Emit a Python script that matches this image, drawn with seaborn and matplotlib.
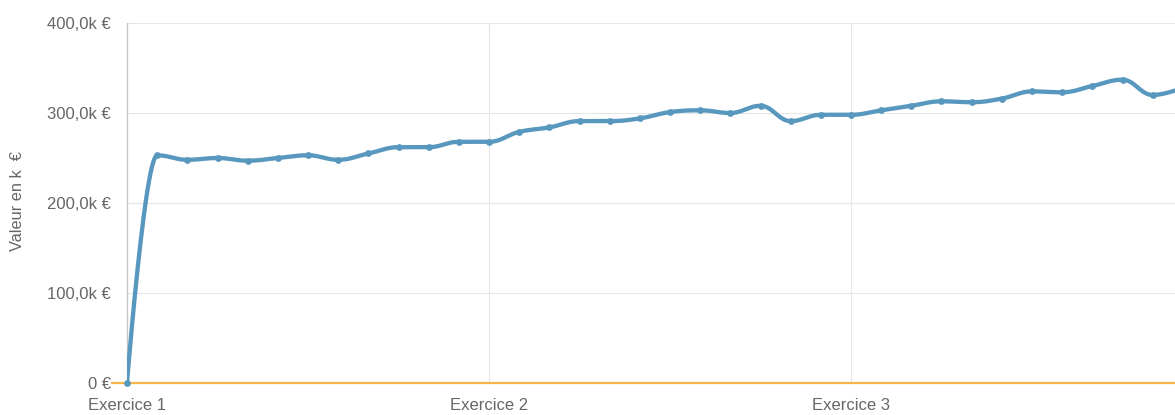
import numpy as np
import pandas as pd
import matplotlib
matplotlib.use("Agg")
import matplotlib.pyplot as plt
import seaborn as sns

# ---- data (values in k€, one point per month) ----
values_k = [0, 253, 248, 250, 247, 250, 253, 248, 255, 262, 262, 268,
            268, 279, 284, 291, 291, 294, 301, 303, 300, 308, 291, 298,
            298, 303, 308, 313, 312, 316, 324, 323, 330, 337, 320, 328]
period_index = list(range(len(values_k)))
x_tick_positions = [0, 12, 24]
x_tick_labels = ["Exercice 1", "Exercice 2", "Exercice 3"]
y_ticks = [0, 100, 200, 300, 400]
y_tick_labels = ["0 €", "100,0k €", "200,0k €", "300,0k €", "400,0k €"]
y_label = "Valeur en k  €"
zero_line_value = 0

LINE_COLOR = "#5898bf"
ZERO_COLOR = "#f7b54a"
TEXT_COLOR = "#666666"
GRID_COLOR = "#e6e6e6"


def spline_curve(xs, ys, smoothing=1.5, n=25):
    """Smooth bezier spline through the points (Highcharts-like)."""
    xs = np.asarray(xs, float)
    ys = np.asarray(ys, float)
    N = len(xs)
    lx, ly, rx, ry = xs.copy(), ys.copy(), xs.copy(), ys.copy()
    d = smoothing + 1
    for i in range(1, N - 1):
        px, py = xs[i], ys[i]
        ax_, ay = xs[i - 1], ys[i - 1]
        nx, ny = xs[i + 1], ys[i + 1]
        lcx = (smoothing * px + ax_) / d
        lcy = (smoothing * py + ay) / d
        rcx = (smoothing * px + nx) / d
        rcy = (smoothing * py + ny) / d
        corr = ((rcy - lcy) * (rcx - px)) / (rcx - lcx) + py - rcy
        lcy += corr
        rcy += corr
        if lcy > ay and lcy > py:
            lcy = max(ay, py); rcy = 2 * py - lcy
        elif lcy < ay and lcy < py:
            lcy = min(ay, py); rcy = 2 * py - lcy
        if rcy > ny and rcy > py:
            rcy = max(ny, py); lcy = 2 * py - rcy
        elif rcy < ny and rcy < py:
            rcy = min(ny, py); lcy = 2 * py - rcy
        lx[i], ly[i], rx[i], ry[i] = lcx, lcy, rcx, rcy
    t = np.linspace(0, 1, n)
    cx, cy = [], []
    for i in range(1, N):
        p0 = (xs[i - 1], ys[i - 1]); c1 = (rx[i - 1], ry[i - 1])
        c2 = (lx[i], ly[i]); p3 = (xs[i], ys[i])
        b0 = (1 - t) ** 3; b1 = 3 * (1 - t) ** 2 * t; b2 = 3 * (1 - t) * t ** 2; b3 = t ** 3
        cx.append(b0 * p0[0] + b1 * c1[0] + b2 * c2[0] + b3 * p3[0])
        cy.append(b0 * p0[1] + b1 * c1[1] + b2 * c2[1] + b3 * p3[1])
    return np.concatenate(cx), np.concatenate(cy)


sns.set_style("white")
plt.rcParams["font.family"] = ["Liberation Sans", "DejaVu Sans"]

fig = plt.figure(figsize=(11.75, 4.15), dpi=100)
W, H = 1175, 415
ax = fig.add_axes([127 / W, 32 / H, 1048 / W, 360 / H])

points = pd.DataFrame({"x": period_index, "y": values_k})
cx, cy = spline_curve(points["x"], points["y"])
curve = pd.DataFrame({"x": cx, "y": cy})

# zero line (orange)
ax.axhline(zero_line_value, xmin=-15 / 1048, xmax=1, color=ZERO_COLOR, lw=1.6,
           clip_on=False, zorder=2)

sns.lineplot(data=curve, x="x", y="y", sort=False, estimator=None, ax=ax,
             color=LINE_COLOR, linewidth=3.1, zorder=3)
sns.scatterplot(data=points, x="x", y="y", ax=ax, color=LINE_COLOR, s=24,
                linewidth=0, zorder=4, clip_on=False)

ax.set_xlim(0, 1048 / (362 / 12))
ax.set_ylim(0, 400)

ax.set_xticks(x_tick_positions)
ax.set_xticklabels(x_tick_labels)
ax.set_yticks(y_ticks)
ax.set_yticklabels(y_tick_labels)
ax.set_xlabel("")
ax.set_ylabel("")

ax.grid(True, color=GRID_COLOR, linewidth=0.8)
ax.set_axisbelow(True)

for s in ["top", "right", "bottom"]:
    ax.spines[s].set_visible(False)
ax.spines["left"].set_color("#c4c4c4")
ax.spines["left"].set_linewidth(0.9)

ax.tick_params(axis="x", length=8.5, width=0.8, color="#d0d0d0", pad=2,
               labelsize=12, labelcolor=TEXT_COLOR)
ax.tick_params(axis="y", length=11, width=0.8, color=GRID_COLOR, pad=0.5,
               labelsize=12, labelcolor=TEXT_COLOR)

fig.text(18 / W, 1 - 201 / H, y_label, rotation=90, ha="center", va="center",
         fontsize=11.8, color=TEXT_COLOR)

fig.savefig("out.png", dpi=100)
